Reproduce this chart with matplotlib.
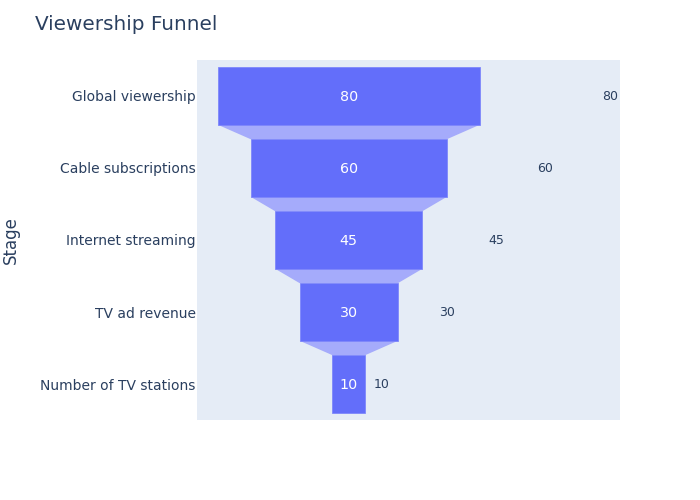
import matplotlib
matplotlib.use("Agg")
import matplotlib.pyplot as plt
from matplotlib.patches import Polygon, Rectangle

stages = ["Global viewership", "Cable subscriptions", "Internet streaming",
          "TV ad revenue", "Number of TV stations"]
values = [80, 60, 45, 30, 10]

BAR = "#636efa"
CONN = "#a5abfb"
BG = "#e5ecf6"
TXT = "#2a3f5f"

fig = plt.figure(figsize=(7, 5), dpi=100)
ax = fig.add_axes([197/700, 80/500, 423/700, 360/500])
ax.set_facecolor(BG)
ax.set_xlim(-46.4, 82.9)
ax.set_ylim(len(stages) - 0.5, -0.5)

h = 0.8
for i, v in enumerate(values):
    ax.add_patch(Rectangle((-v/2, i - h/2), v, h, facecolor=BAR,
                           edgecolor="#7f87fb", linewidth=0.6, zorder=3))
    ax.text(0, i + 0.01, str(v), color="white", ha="center", va="center",
            fontsize=10.3, zorder=4)
    ax.text(v, i, str(v), color=TXT, ha="center", va="center",
            fontsize=9, zorder=4)
    if i + 1 < len(values):
        n = values[i + 1]
        ax.add_patch(Polygon([(-v/2, i + h/2), (v/2, i + h/2),
                              (n/2, i + 1 - h/2), (-n/2, i + 1 - h/2)],
                             closed=True, facecolor=CONN, edgecolor="none",
                             zorder=2))

ax.set_yticks(range(len(stages)))
ax.set_yticklabels(stages, fontsize=10, color=TXT)
ax.set_xticks([])
ax.tick_params(axis="y", length=0, pad=1)
for s in ax.spines.values():
    s.set_visible(False)

fig.text(11/700, 1 - 240/500, "Stage", rotation=90, ha="center", va="center",
         fontsize=12, color=TXT)
fig.text(35/700, 1 - 24/500, "Viewership Funnel", ha="left", va="center",
         fontsize=14.4, color=TXT)

fig.savefig("out.png", dpi=100)
